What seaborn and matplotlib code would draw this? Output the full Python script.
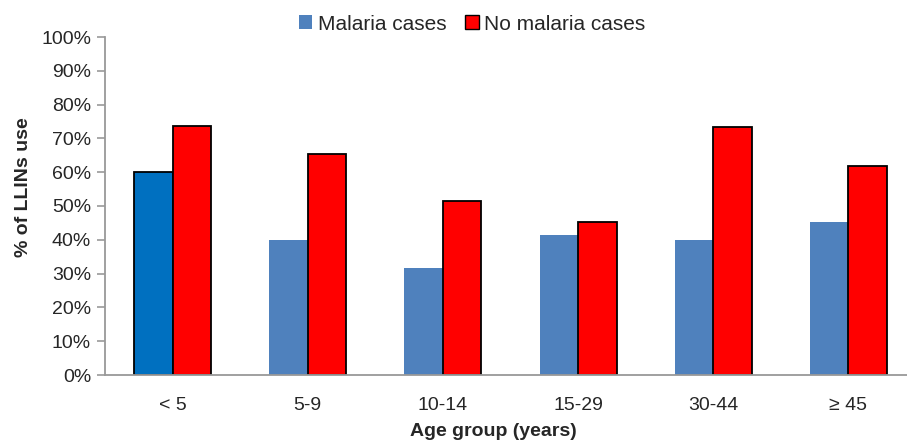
import numpy as np
import pandas as pd
import matplotlib
matplotlib.use("Agg")
import matplotlib.pyplot as plt
import seaborn as sns
from matplotlib.patches import Patch

age_groups = ["< 5", "5-9", "10-14", "15-29", "30-44", "\u2265 45"]
malaria = [60.1, 39.9, 31.8, 41.4, 40.0, 45.3]
no_malaria = [73.7, 65.4, 51.6, 45.3, 73.5, 61.9]
series = ["Malaria cases", "No malaria cases"]

df = pd.DataFrame({
    "age": age_groups * 2,
    "value": malaria + no_malaria,
    "group": [series[0]] * len(age_groups) + [series[1]] * len(age_groups),
})

sns.set_style("white")
plt.rcParams["font.family"] = ["Liberation Sans", "DejaVu Sans"]

blue = "#4F81BD"
red = "#FF0000"

fig = plt.figure(figsize=(9.07, 4.42), dpi=100)
ax = fig.add_axes([105 / 907, 67 / 442, 811 / 907, 338 / 442])

sns.barplot(data=df, x="age", y="value", hue="group", order=age_groups,
            hue_order=series, palette=[blue, red], width=0.57, gap=0,
            saturation=1, legend=False, ax=ax)

for p in ax.containers[0]:
    p.set_edgecolor("none")
for p in ax.containers[1]:
    p.set_edgecolor("black")
    p.set_linewidth(1.3)
# first malaria bar is highlighted in the original
first = ax.containers[0][0]
first.set_facecolor("#0070C0")
first.set_edgecolor("black")
first.set_linewidth(1.3)

ax.set_ylim(0, 100)
ax.set_xlim(-0.5, 5.5)
ax.set_yticks(np.arange(0, 101, 10))
ax.set_yticklabels([f"{v}%" for v in range(0, 101, 10)], fontsize=14)
ax.set_xticks(range(len(age_groups)))
ax.set_xticklabels(age_groups, fontsize=14)
ax.set_xticks(np.arange(-0.5, 6, 1), minor=True)
ax.tick_params(axis="x", which="major", length=0, pad=16)
ax.tick_params(axis="x", which="minor", length=6, width=1.2, color="#999999", direction="out")
ax.tick_params(axis="y", length=6, width=1.2, color="#999999", direction="out", pad=4, left=True)

for s in ["top", "right"]:
    ax.spines[s].set_visible(False)
for s in ["left", "bottom"]:
    ax.spines[s].set_color("#999999")
    ax.spines[s].set_linewidth(1.3)

ax.set_xlabel("Age group (years)", fontsize=14, fontweight="bold")
ax.set_ylabel("% of LLINs use", fontsize=14, fontweight="bold")
ax.xaxis.set_label_coords(0.479, -0.142)
ax.yaxis.set_label_coords(-0.09, 0.556)

handles = [Patch(facecolor=blue, edgecolor="none"),
           Patch(facecolor=red, edgecolor="black", linewidth=1)]
fig.legend(handles, series, loc="center", bbox_to_anchor=(472 / 907, 1 - 24 / 442),
           ncol=2, frameon=False, fontsize=15, handlelength=0.65, handleheight=0.65,
           handletextpad=0.25, columnspacing=0.9)

fig.savefig("out.png", dpi=100)
